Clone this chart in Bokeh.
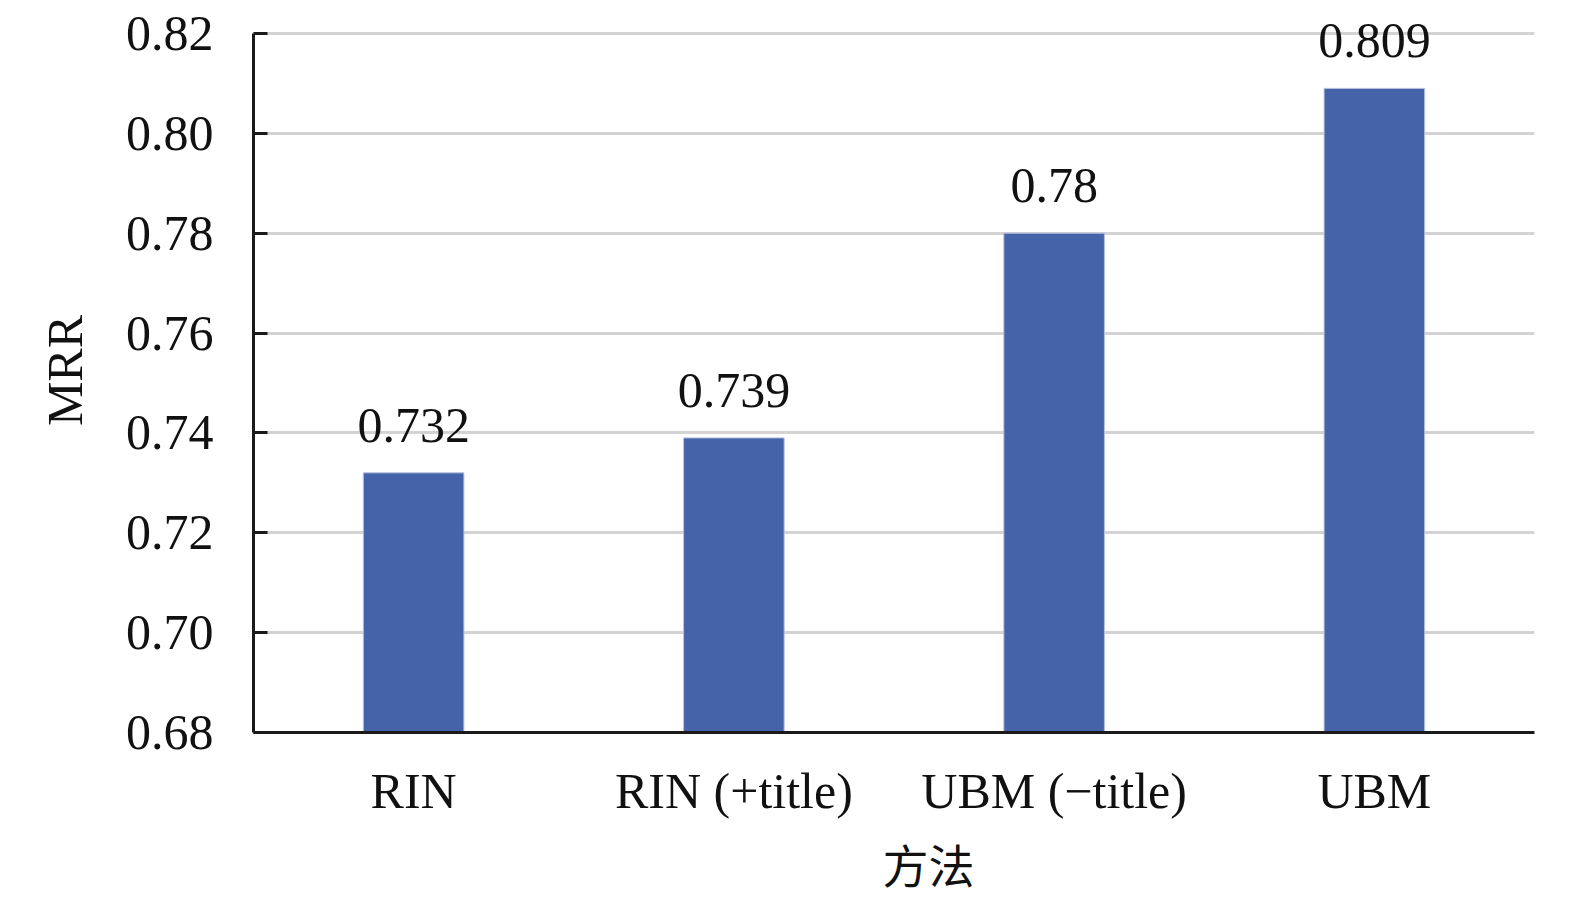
from bokeh.plotting import figure
from bokeh.models import ColumnDataSource, Range1d, FixedTicker, PrintfTickFormatter, LabelSet
from bokeh.embed import file_html
from bokeh.resources import INLINE

categories = ["RIN", "RIN (+title)", "UBM (\u2212title)", "UBM"]
mrr_values = [0.732, 0.739, 0.78, 0.809]
value_labels = ["0.732", "0.739", "0.78", "0.809"]
y_ticks = [0.68, 0.70, 0.72, 0.74, 0.76, 0.78, 0.80, 0.82]

SERIF = "Liberation Serif"
BAR_COLOR = "#4563a8"

src = ColumnDataSource(dict(cat=categories, val=mrr_values, lab=value_labels))

p = figure(x_range=categories, y_range=Range1d(0.68, 0.825),
           width=1559, height=898, output_backend="svg", toolbar_location=None,
           min_border_left=253, min_border_top=8, min_border_right=25, min_border_bottom=100)
p.outline_line_color = None
p.background_fill_color = "white"
p.border_fill_color = "white"

p.vbar(x="cat", top="val", bottom=0.68, width=0.314, source=src,
       fill_color=BAR_COLOR, line_color="#b4c0e0", line_width=1)

labels = LabelSet(x="cat", y="val", text="lab", source=src, text_align="center",
                  text_baseline="bottom", y_offset=31, text_font=SERIF,
                  text_font_size="50px", text_color="#111111")
p.add_layout(labels)

# y axis
p.yaxis.ticker = FixedTicker(ticks=y_ticks)
p.yaxis.formatter = PrintfTickFormatter(format="%.2f")
p.yaxis.bounds = (0.68, 0.82)
p.yaxis.major_tick_in = 14
p.yaxis.major_tick_out = 0
p.yaxis.minor_tick_line_color = None
p.yaxis.axis_line_width = 3
p.yaxis.axis_line_color = "#1a1a1a"
p.yaxis.major_tick_line_width = 3
p.yaxis.major_tick_line_color = "#1a1a1a"
p.yaxis.major_label_text_font = SERIF
p.yaxis.major_label_text_font_size = "50px"
p.yaxis.major_label_text_color = "#111111"
p.yaxis.major_label_standoff = 40
p.yaxis.axis_label = "MRR"
p.yaxis.axis_label_text_font = SERIF
p.yaxis.axis_label_text_font_size = "50px"
p.yaxis.axis_label_text_font_style = "normal"
p.yaxis.axis_label_text_color = "#111111"
p.yaxis.axis_label_standoff = 30

# x axis
p.xaxis.major_tick_line_color = None
p.xaxis.minor_tick_line_color = None
p.xaxis.major_tick_out = 0
p.xaxis.major_tick_in = 0
p.xaxis.axis_line_width = 3
p.xaxis.axis_line_color = "#1a1a1a"
p.xaxis.major_label_text_font = SERIF
p.xaxis.major_label_text_font_size = "50px"
p.xaxis.major_label_text_color = "#111111"
p.xaxis.major_label_standoff = 30
p.xaxis.axis_label = "\u3000\u2002方法"
p.xaxis.axis_label_text_font = "Noto Sans CJK SC"
p.xaxis.axis_label_text_font_size = "46px"
p.xaxis.axis_label_text_font_style = "normal"
p.xaxis.axis_label_text_color = "#111111"
p.xaxis.axis_label_standoff = 8

p.xgrid.grid_line_color = None
p.ygrid.grid_line_color = "#d3d3d3"
p.ygrid.grid_line_width = 3
p.ygrid.bounds = (0.68, 0.82)

open("out.html", "w").write(file_html(p, INLINE))
